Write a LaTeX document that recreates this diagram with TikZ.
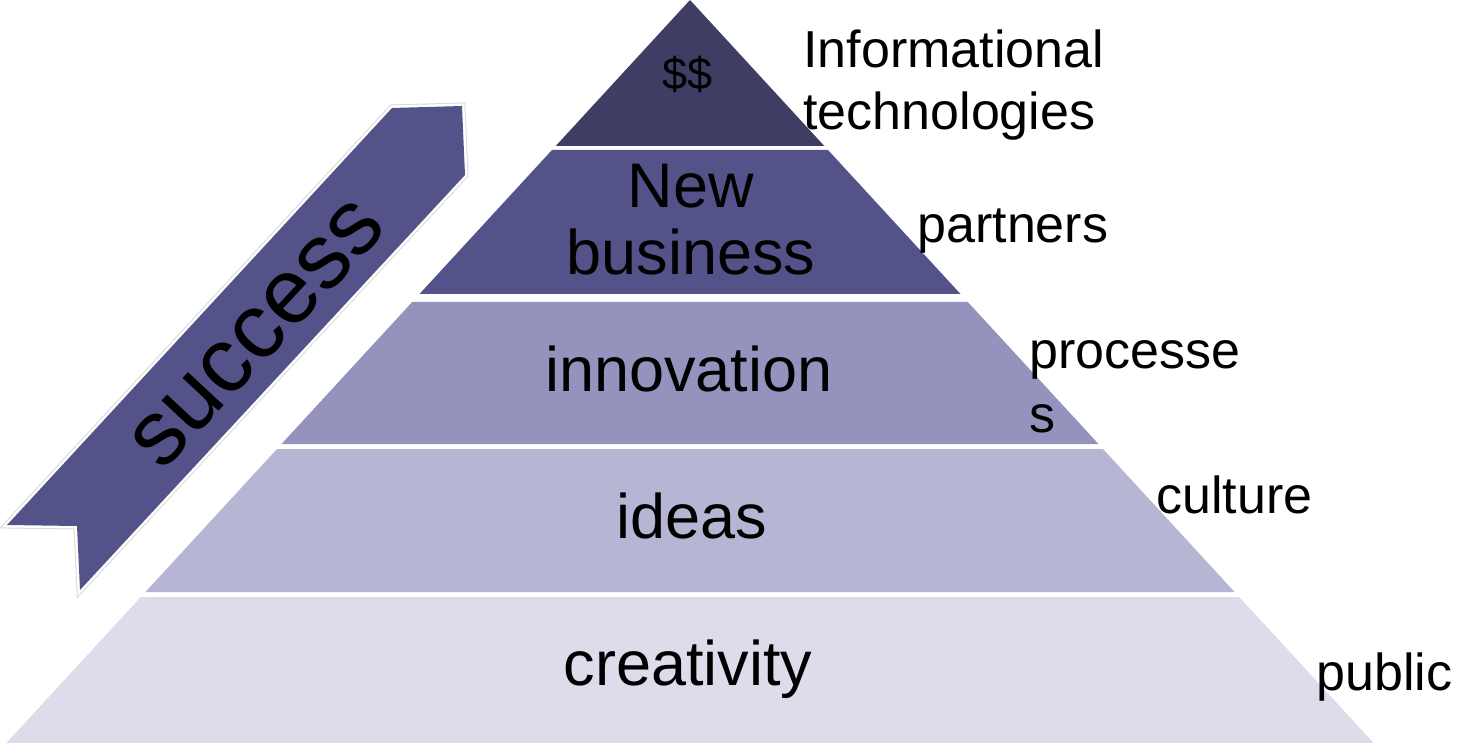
\documentclass[tikz,border=0pt]{standalone}
\usepackage{fontspec}
\setmainfont{Liberation Sans}
\definecolor{c1}{HTML}{3E3E65}
\definecolor{c2}{HTML}{535389}
\definecolor{c3}{HTML}{9393BD}
\definecolor{c4}{HTML}{B6B6D4}
\definecolor{c5}{HTML}{DCDCEB}
\definecolor{arrowcol}{HTML}{535389}
\begin{document}
\begin{tikzpicture}[x=0.5pt,y=-0.5pt,
  lbl/.style={inner sep=0pt, font=\fontsize{31.5}{33.5}\selectfont, align=center, anchor=base},
  side/.style={inner sep=0pt, font=\fontsize{26}{31}\selectfont, align=left, anchor=base west},
]
\useasboundingbox (0,0) rectangle (1457,743);
% pyramid layers
\fill[c1] (690,0) -- (824.3,146) -- (555.7,146) -- cycle;
\fill[c2] (552,150) -- (828,150) -- (960.5,294) -- (419.5,294) -- cycle;
\fill[c3] (412.2,302) -- (967.8,302) -- (1098.5,444) -- (281.5,444) -- cycle;
\fill[c4] (277,449) -- (1103,449) -- (1234.6,592) -- (145.4,592) -- cycle;
\fill[c5] (140.8,597) -- (1239.2,597) -- (1373.6,743) -- (6.4,743) -- cycle;
% success ribbon arrow
\draw[black!15, line width=0.5pt, double=white, double distance=2.5pt]
  (392,108) -- (462,106) -- (465,175) -- (80,590) -- (77,526) -- (7,525) -- cycle;
\fill[arrowcol]
  (392,108) -- (462,106) -- (465,175) -- (80,590) -- (77,526) -- (7,525) -- cycle;
\node[inner sep=0pt, font=\fontsize{46}{50}\selectfont, rotate=47] (success) at (258,334) {success};
% layer labels
\node[lbl, font=\fontsize{22.5}{27}\selectfont] (dollars) at (688,90) {\$\$};
\node[lbl] (newbiz) at (691,275) {New\\business};
\node[lbl] (innov) at (689,392) {innovation};
\node[lbl] (ideas) at (692,538) {ideas};
\node[lbl] (creat) at (688,685) {creativity};
% side labels
\node[side] (it) at (803,130) {Informational\\technologies};
\node[side] (partners) at (917,243) {partners};
\node[side, font=\fontsize{26}{32}\selectfont] (proc) at (1029,432) {processe\\s};
\node[side] (culture) at (1156,513) {culture};
\node[side] (public) at (1316,690) {public};
\end{tikzpicture}
\end{document}
